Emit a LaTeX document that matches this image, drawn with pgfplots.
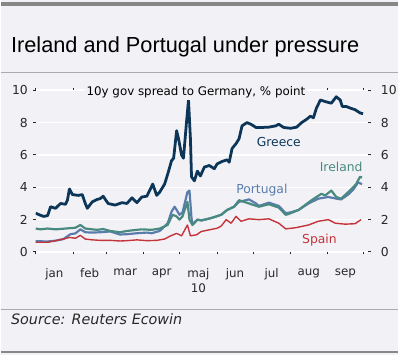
\documentclass[border=0pt]{standalone}
\usepackage{pgfplots}
\pgfplotsset{compat=1.18}
\usepackage{fontspec}
\setmainfont{DejaVu Sans}
\newfontfamily\titlefont{Liberation Sans}
\definecolor{bg}{RGB}{242,242,246}
\definecolor{rulegray}{RGB}{150,150,150}
\definecolor{greece}{RGB}{12,53,88}
\definecolor{portugal}{RGB}{90,124,172}
\definecolor{ireland}{RGB}{72,138,128}
\definecolor{spain}{RGB}{196,50,58}
\definecolor{txt}{RGB}{40,40,40}

\pgfplotstableread{
day v
0 2.4
3 2.3
6.6 2.2
9.9 2.25
12.4 2.8
16.5 2.7
20.7 3.0
24.8 2.95
26.4 3.2
28.1 3.9
30.6 3.55
35.5 3.5
38.8 3.55
41.3 3.0
43 2.7
47.1 3.1
51.2 3.25
53.7 3.3
56.2 3.45
60.3 3.0
66.1 2.9
71.9 3.05
76 3.0
80.2 3.35
84.3 3.05
88.4 3.4
92.6 3.45
97.5 4.2
100.8 3.5
103.3 3.7
107.4 4.2
109.9 4.8
113.2 5.65
114.9 5.8
117.4 7.5
119 7.0
121.5 6.0
123.1 5.8
125.6 8.0
127.3 9.4
128.9 7.0
129.8 4.65
132.2 4.4
134.7 5.0
137.2 4.7
140.5 5.25
144.6 5.35
148.8 5.15
151.2 5.45
155.4 5.6
159.5 5.7
161.2 5.55
163.6 6.4
166.9 6.7
169.4 7.0
171.9 7.8
176 8.0
179.3 7.9
183.5 7.7
188.4 7.7
194.2 7.72
200 7.8
202.5 7.9
206.6 7.7
212.4 7.65
217.4 7.72
221.5 8.0
225.6 8.2
228.9 8.4
231.4 8.3
233.9 8.9
237.2 9.4
241.3 9.3
246.3 9.2
250.4 9.6
253.7 9.4
255.4 9.0
258.7 9.0
262 8.9
266.1 8.8
270.2 8.6
272.7 8.55
}\greece

\pgfplotstableread{
day v
0 1.45
4.1 1.4
9.9 1.45
16.5 1.4
24.8 1.45
33.1 1.5
37.2 1.67
41.3 1.45
47.1 1.4
51.2 1.37
56.2 1.42
62 1.3
70.2 1.22
76 1.3
84.3 1.37
88.4 1.4
96.7 1.37
103.3 1.45
109.9 1.67
114 2.3
117.4 2.2
119.8 2.0
122.3 2.2
126.4 3.1
128.1 2.0
130.6 1.67
134.7 2.0
138 1.95
146.3 2.1
154.5 2.3
159.5 2.6
165.3 2.8
169.4 3.2
177.7 3.0
186 2.8
194.2 2.95
202.5 2.75
208.3 2.3
210.7 2.35
219 2.6
229.8 3.2
238 3.6
241.3 3.5
246.3 3.8
250.4 3.4
254.5 3.3
260.3 3.7
264.5 4.0
266.9 4.2
270.2 4.65
271.9 4.6
}\ireland

\pgfplotstableread{
day v
0 0.67
9.9 0.65
16.5 0.7
23.1 0.8
28.9 1.1
33.1 1.15
37.2 1.4
41.3 1.22
47.1 1.2
53.7 1.22
62 1.27
70.2 1.08
76 1.1
84.3 1.16
92.6 1.2
96.7 1.16
103.3 1.3
109.9 1.77
113.2 2.5
115.7 2.8
117.4 2.6
119.8 2.3
122.3 2.45
126.4 3.7
128.1 3.8
129.8 2.1
130.6 1.7
134.7 2.0
138 1.95
146.3 2.1
154.5 2.3
159.5 2.6
165.3 2.8
169.4 3.1
177.7 3.25
183.5 3.0
186 2.85
194.2 3.05
202.5 2.85
208.3 2.4
212.4 2.45
219 2.6
227.3 3.0
235.5 3.3
243.8 3.4
250.4 3.3
254.5 3.25
260.3 3.55
264.5 3.85
268.6 4.3
271.9 4.2
}\portugal

\pgfplotstableread{
day v
0 0.6
9.9 0.6
16.5 0.7
23.1 0.8
28.1 0.9
33.1 0.85
37.2 1.03
41.3 0.8
47.1 0.75
53.7 0.72
62 0.72
70.2 0.68
76 0.7
84.3 0.75
92.6 0.7
100.8 0.72
107.4 0.8
111.6 0.97
117.4 1.15
121.5 1.0
126.4 1.67
128.9 1.0
133.9 1.06
138 1.27
144.6 1.37
151.2 1.47
154.5 1.6
158.7 2.0
162.8 1.78
166.9 2.2
171.1 1.9
177.7 2.05
186 2.0
194.2 2.05
202.5 1.78
208.3 1.43
216.5 1.5
227.3 1.67
235.5 1.9
243.8 2.0
249.6 1.78
257.9 1.72
266.1 1.75
271.1 2.0
}\spain

\begin{document}
\begin{tikzpicture}[x=1bp,y=1bp]
\fill[bg] (0,0) rectangle (400,358);
\fill[rulegray!90!black] (0,352) rectangle (400,356);
\node[anchor=base west, inner sep=0, text=black, font=\titlefont\fontsize{22}{26}\selectfont] at (10,305) {Ireland and Portugal under pressure};
\draw[rulegray!80, line width=1.2bp] (0,285) -- (400,285);

\pgfplotsset{common/.style={
  at={(35bp,104bp)}, anchor=south west,
  width=335bp, height=163bp, scale only axis,
  xmin=0, xmax=276.9, ymin=0, ymax=10,
  axis line style={draw=none},
  ytick={0,2,4,6,8,10},
  tick align=outside,
  major tick length=2.5bp,
  y tick style={draw=txt, line width=1bp},
  /pgf/number format/assume math mode=true,
  yticklabel style={font=\fontsize{12.5}{14}\selectfont, text=txt},
}}

\begin{axis}[common,
  ymajorgrids,
  major grid style={white, line width=1.6bp},
  xtick={0,31,59,90,120,151,181,212,243,273},
  xticklabels={},
  x tick style={draw=txt, line width=0.7bp},
  extra x ticks={15.5,45,74.5,105,135.5,166,196.5,227.5,258},
  extra x tick labels={jan,feb,mar,apr,{maj\\10},jun,jul,aug,sep},
  extra x tick style={major tick length=0pt, xticklabel style={align=center, font=\fontsize{12}{15.5}\selectfont, text=txt, yshift=-13bp}},
  yticklabel pos=left,
  yticklabel style={xshift=-2bp},
]
\addplot[portugal, line width=2.2bp, line join=round] table[x=day,y=v] {\portugal};
\addplot[ireland, line width=2.2bp, line join=round] table[x=day,y=v] {\ireland};
\addplot[spain, line width=1.4bp, line join=round] table[x=day,y=v] {\spain};
\addplot[greece, line width=2.8bp, line join=round] table[x=day,y=v] {\greece};
\node[text=greece, font=\fontsize{12.5}{14}\selectfont] at (axis cs:202.5,6.8) {Greece};
\node[text=ireland, font=\fontsize{12.5}{14}\selectfont] at (axis cs:254.5,5.28) {Ireland};
\node[text=portugal, font=\fontsize{12.5}{14}\selectfont] at (axis cs:188.4,3.8) {Portugal};
\node[text=spain, font=\fontsize{12.5}{14}\selectfont] at (axis cs:236.4,0.74) {Spain};
\end{axis}

\begin{axis}[common,
  hide x axis,
  axis y line*=right,
  yticklabel pos=right,
  yticklabel style={xshift=7bp},
]
\end{axis}

\node[fill=bg, inner sep=2bp, text=black, font=\fontsize{12}{14}\selectfont] at (196.5,265) {10y gov spread to Germany, \% point};
\draw[rulegray!80, line width=1.4bp] (0,46) -- (400,46);
\node[anchor=base west, inner sep=0, text=txt, font=\itshape\fontsize{14.5}{17}\selectfont] at (10,31) {Source: Reuters Ecowin};
\draw[rulegray!90!black, line width=2bp] (0,3) -- (400,3);
\end{tikzpicture}
\end{document}
